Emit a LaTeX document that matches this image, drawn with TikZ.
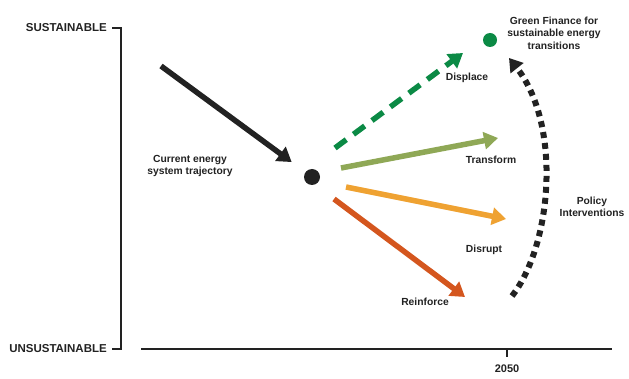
\documentclass[tikz,border=0pt]{standalone}
\usepackage{fontspec}
\setmainfont{Liberation Sans}
\usetikzlibrary{arrows.meta, positioning}
\definecolor{Disp_Green}{HTML}{0B8A45}
\definecolor{Trans_Olive}{HTML}{8FA856}
\definecolor{Disr_Orange}{HTML}{EFA232}
\definecolor{Reinf_Red}{HTML}{D4561E}
\definecolor{Ink}{HTML}{222222}

\begin{document}
\begin{tikzpicture}[x=1pt, y=-1pt,
    lbl/.style={font=\fontsize{10.3}{12.5}\selectfont\bfseries, text=Ink, align=center, inner sep=0pt},
    axlbl/.style={font=\fontsize{11.5}{13}\selectfont\bfseries, text=Ink, anchor=east, inner sep=0pt},
    trend/.style={line width=5.5pt, -{Triangle[length=14pt, width=17pt]}}]
    \useasboundingbox (0,0) rectangle (629,379);

    % Axes
    \draw[Ink, line width=1.6pt] (112,28) -- (121,28) -- (121,349) -- (112,349);
    \draw[Ink, line width=1.6pt] (141,349) -- (612,349);
    \draw[Ink, line width=1.6pt] (507,349) -- (507,357);
    \node[axlbl] (sus) at (107,28) {SUSTAINABLE};
    \node[axlbl] (unsus) at (107,349) {UNSUSTAINABLE};
    \node[lbl, font=\fontsize{11}{13}\selectfont\bfseries] (yr) at (507,369) {2050};

    % Current state and goal
    \node[circle, fill=Ink, minimum size=16pt, inner sep=0pt] (now) at (312,177) {};
    \node[circle, fill=Disp_Green, minimum size=14pt, inner sep=0pt] (goal) at (490,40) {};
    \coordinate (past) at (161,66);
    \draw[trend, Ink, shorten >=17pt] (past) -- (now);
    \node[lbl] (cur) at (190,166) {Current energy\\system trajectory};
    \node[lbl] (gf) at (554,33) {Green Finance for\\sustainable energy\\transitions};

    % Four pathways
    \coordinate (dispA) at (335,148);  \coordinate (dispB) at (463,53);
    \coordinate (tranA) at (341,168);  \coordinate (tranB) at (498,138);
    \coordinate (disrA) at (346,187);  \coordinate (disrB) at (506,219);
    \coordinate (reinA) at (334,199);  \coordinate (reinB) at (465,297);
    \draw[trend, Disp_Green, dash pattern=on 14pt off 9pt] (dispA) -- (dispB);
    \draw[trend, Trans_Olive] (tranA) -- (tranB);
    \draw[trend, Disr_Orange] (disrA) -- (disrB);
    \draw[trend, Reinf_Red] (reinA) -- (reinB);
    \node[lbl] (disp) at (467,78) {Displace};
    \node[lbl] (tran) at (491,160) {Transform};
    \node[lbl] (disr) at (484,250) {Disrupt};
    \node[lbl] (rein) at (425,302) {Reinforce};

    % Policy push
    \coordinate (polA) at (512,296);
    \coordinate (polB) at (509,58);
    \draw[Ink, line width=6pt, dash pattern=on 6pt off 5pt,
          -{Triangle[length=13pt, width=16pt]}]
        (polA) .. controls (552,245) and (562,125) .. (polB);
    \node[lbl] (pol) at (592,207) {Policy\\Interventions};
\end{tikzpicture}
\end{document}
